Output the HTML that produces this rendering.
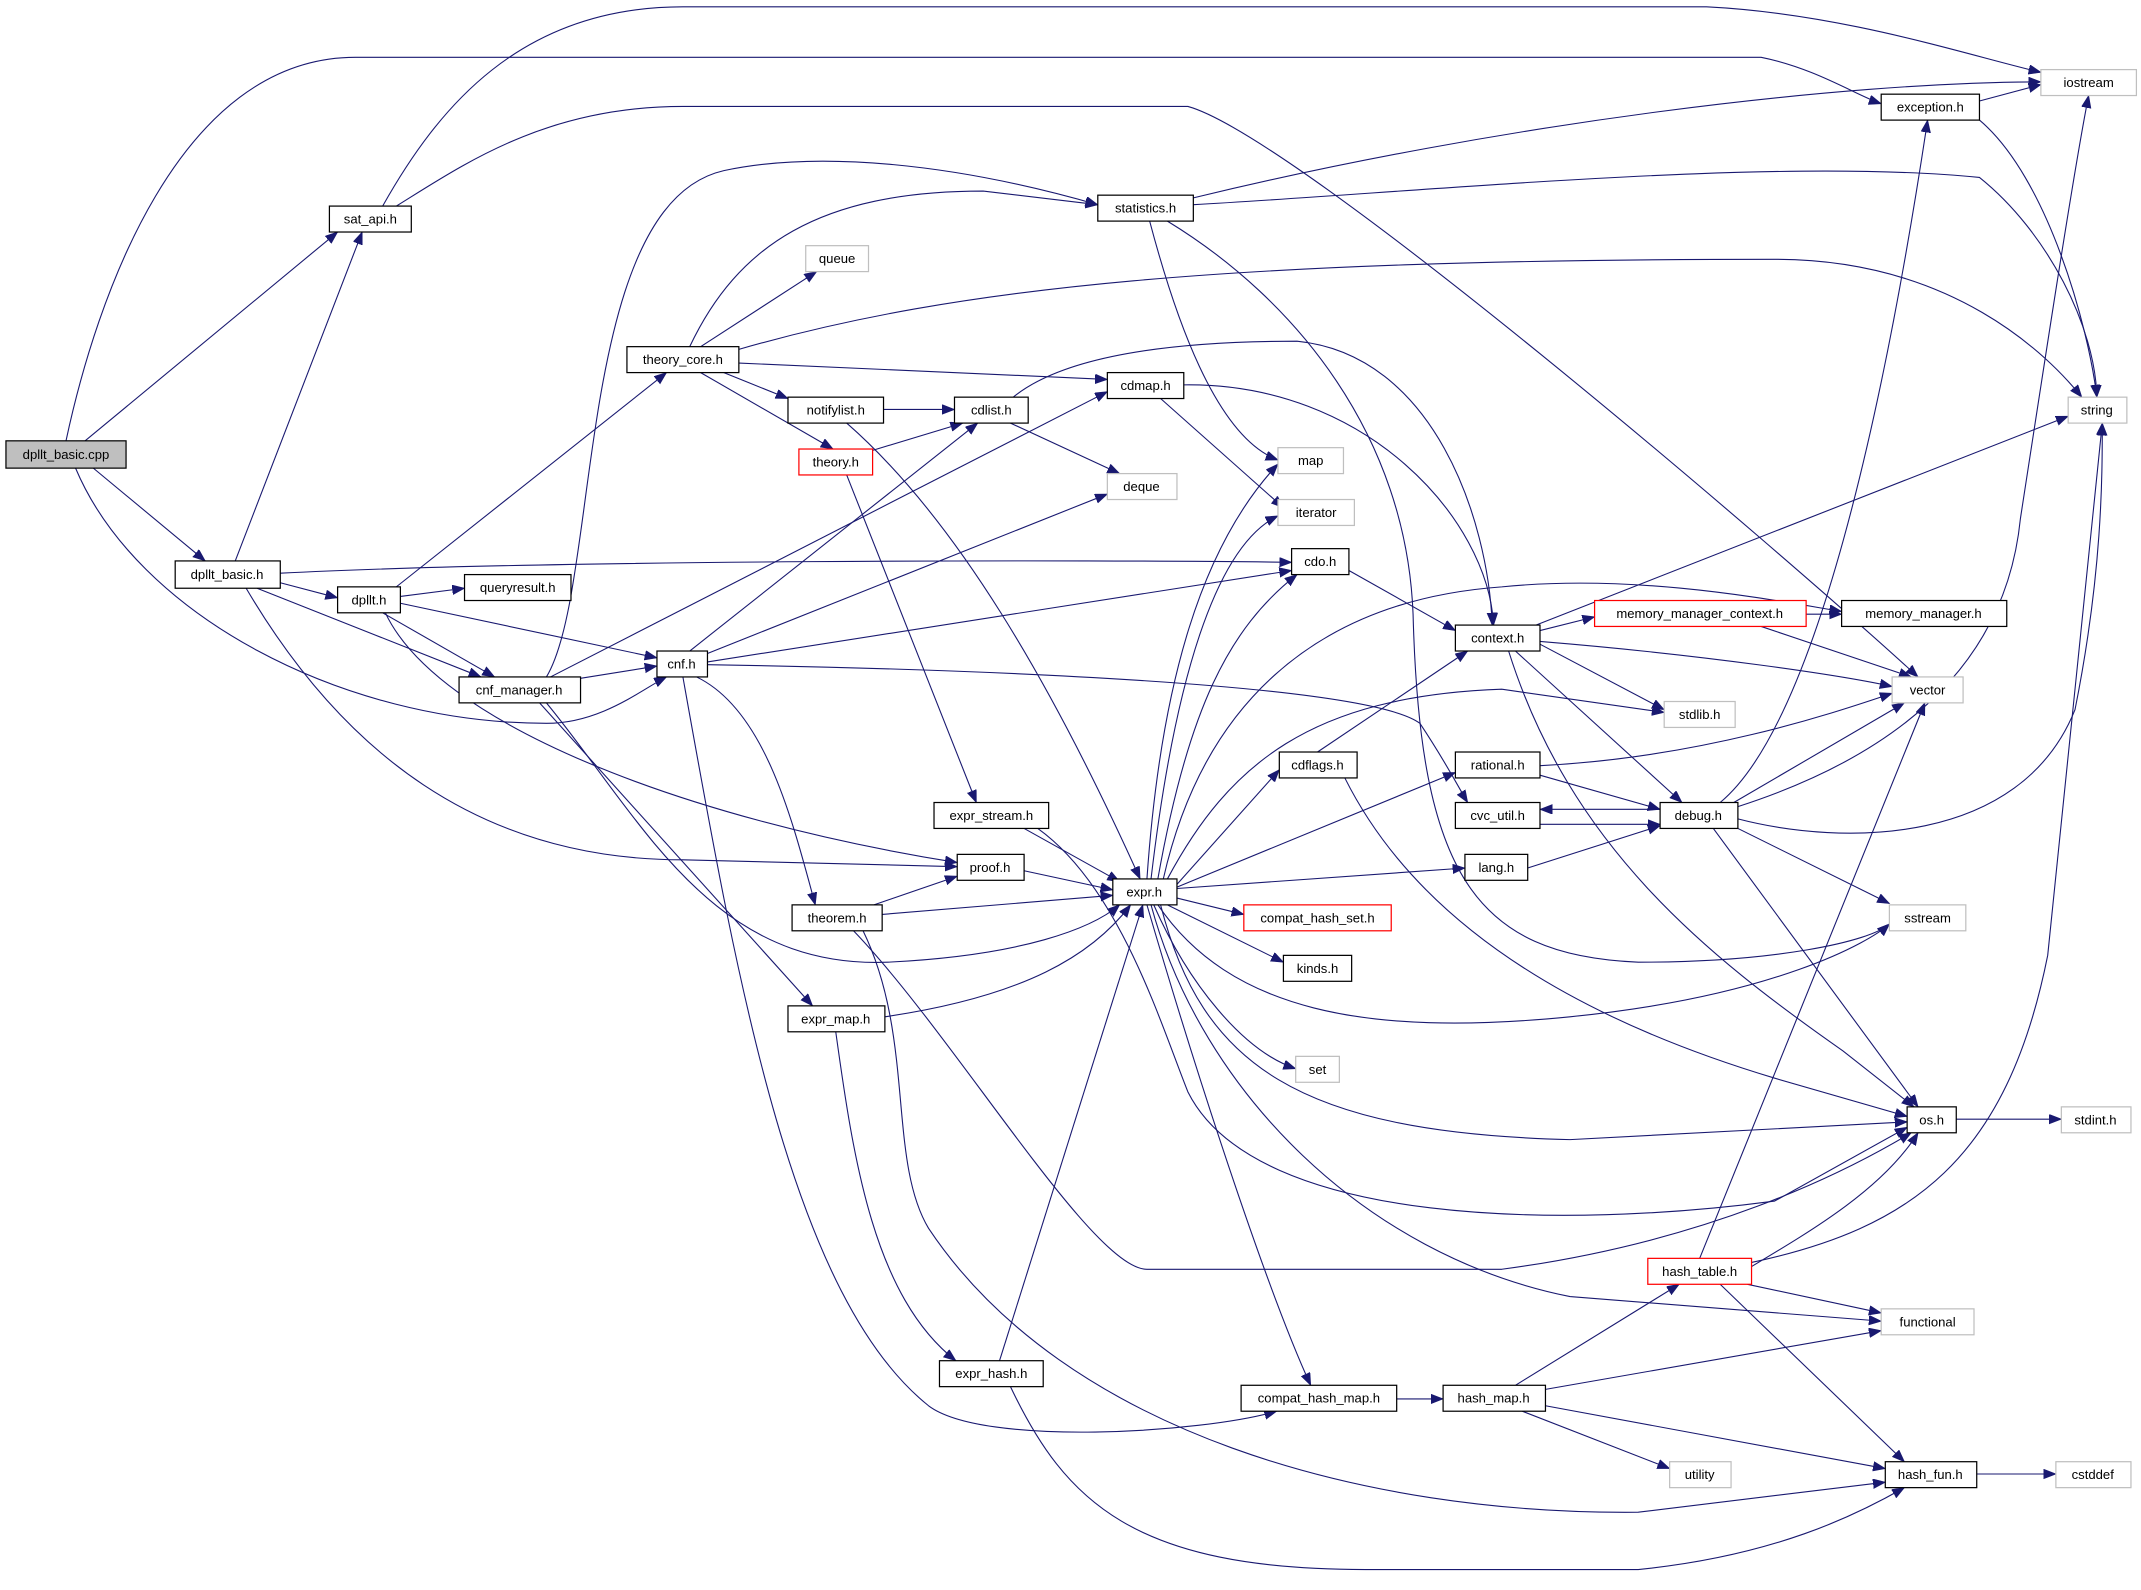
<!DOCTYPE html>
<html><head><meta charset="utf-8"><style>
html,body{margin:0;padding:0;background:#fff;}
svg{display:block}
text{font-family:"Liberation Sans","DejaVu Sans",sans-serif;font-size:9.6px;fill:#000;text-anchor:middle;dominant-baseline:central}
.e{fill:none;stroke:#191970;stroke-width:0.8}
.n{fill:#fff;stroke:#000;stroke-width:0.9}
.g{fill:#fff;stroke:#bfbfbf;stroke-width:0.9}
.r{fill:#fff;stroke:#ff0000;stroke-width:0.9}
</style></head><body>
<svg width="2141" height="1590" viewBox="0 0 1568 1165" xmlns="http://www.w3.org/2000/svg">
<defs><marker id="a" markerUnits="userSpaceOnUse" markerWidth="10" markerHeight="8" refX="9" refY="3.5" orient="auto"><path d="M0,0 L9,3.5 L0,7 z" fill="#191970" stroke="#191970" stroke-width="0.5"/></marker></defs>
<g marker-end="url(#a)">
<path class="e" d="M48,323 C70,220 130,42 260,42 L1290,42 C1330,50 1360,70 1378,76"/>
<path class="e" d="M280,151 C320,80 380,5 500,5 L1250,5 C1350,10 1440,40 1495,53"/>
<path class="e" d="M290,151 C340,120 400,78 500,78 L870,78 C950,100 1300,400 1405,496"/>
<path class="e" d="M62,323 L247,170"/>
<path class="e" d="M68,343 L150,411"/>
<path class="e" d="M55,343 C100,450 250,530 400,530 C440,530 470,505 488,496"/>
<path class="e" d="M172,411 L265,170"/>
<path class="e" d="M205,420 C400,410 800,410 946,412"/>
<path class="e" d="M205,427 L247,438"/>
<path class="e" d="M188,431 L352,496"/>
<path class="e" d="M180,431 C250,550 350,630 500,630 L701,635"/>
<path class="e" d="M293,437 L340,431"/>
<path class="e" d="M290,430 L488,273"/>
<path class="e" d="M293,442 L481,482"/>
<path class="e" d="M280,449 L362,496"/>
<path class="e" d="M282,449 C320,530 500,600 701,632"/>
<path class="e" d="M425,497 L481,488"/>
<path class="e" d="M400,496 C440,430 420,150 530,125 C600,110 700,120 804,150"/>
<path class="e" d="M403,496 L811,287"/>
<path class="e" d="M400,515 C470,600 520,710 650,705 C750,700 800,680 820,663"/>
<path class="e" d="M395,515 L595,737"/>
<path class="e" d="M505,477 L716,310"/>
<path class="e" d="M515,480 L811,362"/>
<path class="e" d="M518,485 L946,418"/>
<path class="e" d="M518,487 C700,490 1000,500 1040,530 C1060,560 1070,580 1075,588"/>
<path class="e" d="M510,496 C560,520 580,600 597,663"/>
<path class="e" d="M500,496 C540,720 580,950 680,1030 C720,1060 880,1050 935,1034"/>
<path class="e" d="M505,254 C540,180 600,140 720,140 L804,150"/>
<path class="e" d="M513,254 L598,199"/>
<path class="e" d="M541,256 C700,210 900,190 1300,190 C1430,190 1500,260 1525,291"/>
<path class="e" d="M541,266 L811,278"/>
<path class="e" d="M530,273 L577,292"/>
<path class="e" d="M513,273 L610,329"/>
<path class="e" d="M647,300 L699,300"/>
<path class="e" d="M620,310 C700,380 770,500 835,644"/>
<path class="e" d="M639,330 L705,310"/>
<path class="e" d="M620,348 L715,588"/>
<path class="e" d="M740,310 L820,347"/>
<path class="e" d="M742,291 C780,260 860,250 950,250 C1050,260 1090,380 1093,458"/>
<path class="e" d="M850,292 L940,372"/>
<path class="e" d="M867,282 C1000,280 1090,380 1094,458"/>
<path class="e" d="M874,145 C1100,90 1350,60 1495,60"/>
<path class="e" d="M874,150 C1050,140 1300,115 1450,130 C1500,170 1535,240 1536,291"/>
<path class="e" d="M842,162 C860,230 890,320 936,337"/>
<path class="e" d="M855,162 C950,220 1030,320 1035,450 C1040,640 1080,700 1200,705 C1300,705 1370,690 1384,677"/>
<path class="e" d="M1450,74 L1495,62"/>
<path class="e" d="M1450,88 C1500,130 1530,240 1536,291"/>
<path class="e" d="M988,418 L1066,462"/>
<path class="e" d="M1128,462 L1168,452"/>
<path class="e" d="M1128,470 C1250,480 1350,495 1386,503"/>
<path class="e" d="M1128,472 L1219,520"/>
<path class="e" d="M1110,477 L1232,588"/>
<path class="e" d="M1105,477 C1150,620 1250,700 1350,770 L1402,811"/>
<path class="e" d="M1125,458 L1515,305"/>
<path class="e" d="M1323,450 L1349,450"/>
<path class="e" d="M1290,459 L1400,496"/>
<path class="e" d="M840,644 C850,500 880,400 936,340"/>
<path class="e" d="M843,644 C860,500 890,400 936,378"/>
<path class="e" d="M848,644 C870,520 900,460 950,421"/>
<path class="e" d="M852,644 C880,520 960,440 1100,430 C1200,420 1300,440 1349,448"/>
<path class="e" d="M855,644 C900,560 960,510 1100,505 L1219,522"/>
<path class="e" d="M862,648 L937,564"/>
<path class="e" d="M862,650 L1066,566"/>
<path class="e" d="M862,651 L1073,636"/>
<path class="e" d="M862,658 L911,670"/>
<path class="e" d="M855,663 L940,705"/>
<path class="e" d="M845,663 C870,720 910,770 949,783"/>
<path class="e" d="M848,663 C900,740 1000,760 1150,745 C1300,730 1370,690 1384,677"/>
<path class="e" d="M850,663 C880,780 950,830 1150,835 L1397,822"/>
<path class="e" d="M843,663 C880,800 1000,920 1150,950 L1378,968"/>
<path class="e" d="M840,663 C880,800 930,950 960,1015"/>
<path class="e" d="M750,607 L820,646"/>
<path class="e" d="M760,607 C820,650 850,750 870,800 C920,900 1150,900 1300,880 L1397,826"/>
<path class="e" d="M750,638 L815,652"/>
<path class="e" d="M640,663 L701,642"/>
<path class="e" d="M646,670 L815,656"/>
<path class="e" d="M625,682 C700,760 800,930 840,930 L1100,930 C1250,910 1350,860 1400,830"/>
<path class="e" d="M632,682 C670,760 650,850 680,900 C780,1050 1000,1110 1200,1108 L1381,1086"/>
<path class="e" d="M648,745 C750,730 800,700 828,663"/>
<path class="e" d="M612,756 C625,850 640,950 700,997"/>
<path class="e" d="M732,997 L837,663"/>
<path class="e" d="M740,1016 C780,1100 830,1150 1000,1150 L1200,1150 C1300,1140 1360,1110 1395,1090"/>
<path class="e" d="M965,551 L1075,477"/>
<path class="e" d="M985,570 C1050,700 1200,760 1300,790 L1397,818"/>
<path class="e" d="M1128,561 C1250,555 1350,520 1386,508"/>
<path class="e" d="M1128,568 L1216,593"/>
<path class="e" d="M1128,604 L1216,604"/>
<path class="e" d="M1216,593 L1128,593"/>
<path class="e" d="M1119,636 L1216,605"/>
<path class="e" d="M1260,588 C1330,530 1380,300 1412,88"/>
<path class="e" d="M1273,591 C1400,550 1470,480 1480,380 C1500,250 1520,120 1530,70"/>
<path class="e" d="M1273,600 C1350,620 1480,620 1520,520 C1540,420 1540,350 1540,310"/>
<path class="e" d="M1270,588 L1395,515"/>
<path class="e" d="M1273,607 L1384,662"/>
<path class="e" d="M1255,607 L1405,811"/>
<path class="e" d="M1433,820 L1510,820"/>
<path class="e" d="M1245,922 L1410,515"/>
<path class="e" d="M1283,928 C1330,900 1380,870 1405,830"/>
<path class="e" d="M1283,925 C1400,900 1470,850 1500,700 L1540,310"/>
<path class="e" d="M1280,941 L1378,962"/>
<path class="e" d="M1260,941 L1395,1071"/>
<path class="e" d="M1023,1025 L1057,1025"/>
<path class="e" d="M1110,1015 L1230,941"/>
<path class="e" d="M1132,1018 L1378,975"/>
<path class="e" d="M1115,1034 L1223,1076"/>
<path class="e" d="M1132,1030 L1381,1076"/>
<path class="e" d="M1448,1080 L1506,1080"/>
</g>
<g>
<rect x="4" y="323" width="88" height="20" fill="#bfbfbf" stroke="#000" stroke-width="0.9"/><text x="48" y="333">dpllt_basic.cpp</text>
<rect class="g" x="1495" y="51" width="70" height="19"/><text x="1530" y="60.5">iostream</text>
<rect class="n" x="1378" y="69" width="72" height="19"/><text x="1414" y="78.5">exception.h</text>
<rect class="n" x="241" y="151" width="60" height="19"/><text x="271" y="160.5">sat_api.h</text>
<rect class="n" x="804" y="143" width="70" height="19"/><text x="839" y="152.5">statistics.h</text>
<rect class="g" x="590" y="180" width="46" height="19"/><text x="613" y="189.5">queue</text>
<rect class="n" x="459" y="254" width="82" height="19"/><text x="500" y="263.5">theory_core.h</text>
<rect class="g" x="1515" y="291" width="43" height="19"/><text x="1536" y="300.5">string</text>
<rect class="n" x="577" y="291" width="70" height="19"/><text x="612" y="300.5">notifylist.h</text>
<rect class="n" x="699" y="291" width="54" height="19"/><text x="726" y="300.5">cdlist.h</text>
<rect class="n" x="811" y="273" width="56" height="19"/><text x="839" y="282.5">cdmap.h</text>
<rect class="r" x="585" y="329" width="54" height="19"/><text x="612" y="338.5">theory.h</text>
<rect class="g" x="936" y="328" width="48" height="19"/><text x="960" y="337.5">map</text>
<rect class="g" x="811" y="347" width="51" height="19"/><text x="836" y="356.5">deque</text>
<rect class="g" x="936" y="366" width="56" height="19"/><text x="964" y="375.5">iterator</text>
<rect class="n" x="128" y="411" width="77" height="20"/><text x="166" y="421">dpllt_basic.h</text>
<rect class="n" x="247" y="430" width="46" height="19"/><text x="270" y="439.5">dpllt.h</text>
<rect class="n" x="340" y="421" width="78" height="19"/><text x="379" y="430.5">queryresult.h</text>
<rect class="n" x="946" y="402" width="42" height="19"/><text x="967" y="411.5">cdo.h</text>
<rect class="n" x="1066" y="458" width="62" height="19"/><text x="1097" y="467.5">context.h</text>
<rect class="r" x="1168" y="440" width="155" height="19"/><text x="1245" y="449.5">memory_manager_context.h</text>
<rect class="n" x="1349" y="440" width="121" height="19"/><text x="1409" y="449.5">memory_manager.h</text>
<rect class="n" x="481" y="477" width="37" height="19"/><text x="499" y="486.5">cnf.h</text>
<rect class="n" x="336" y="496" width="89" height="19"/><text x="380" y="505.5">cnf_manager.h</text>
<rect class="g" x="1219" y="514" width="52" height="19"/><text x="1245" y="523.5">stdlib.h</text>
<rect class="g" x="1386" y="496" width="52" height="19"/><text x="1412" y="505.5">vector</text>
<rect class="n" x="937" y="551" width="57" height="19"/><text x="965" y="560.5">cdflags.h</text>
<rect class="n" x="1066" y="551" width="62" height="19"/><text x="1097" y="560.5">rational.h</text>
<rect class="n" x="684" y="588" width="84" height="19"/><text x="726" y="597.5">expr_stream.h</text>
<rect class="n" x="1066" y="588" width="62" height="19"/><text x="1097" y="597.5">cvc_util.h</text>
<rect class="n" x="1216" y="588" width="57" height="19"/><text x="1244" y="597.5">debug.h</text>
<rect class="n" x="701" y="626" width="49" height="19"/><text x="725" y="635.5">proof.h</text>
<rect class="n" x="1073" y="626" width="46" height="19"/><text x="1096" y="635.5">lang.h</text>
<rect class="n" x="815" y="644" width="47" height="19"/><text x="838" y="653.5">expr.h</text>
<rect class="n" x="580" y="663" width="66" height="19"/><text x="613" y="672.5">theorem.h</text>
<rect class="r" x="911" y="663" width="108" height="19"/><text x="965" y="672.5">compat_hash_set.h</text>
<rect class="g" x="1384" y="663" width="56" height="19"/><text x="1412" y="672.5">sstream</text>
<rect class="n" x="940" y="700" width="50" height="19"/><text x="965" y="709.5">kinds.h</text>
<rect class="n" x="577" y="737" width="71" height="19"/><text x="612" y="746.5">expr_map.h</text>
<rect class="g" x="949" y="774" width="32" height="19"/><text x="965" y="783.5">set</text>
<rect class="n" x="1397" y="811" width="36" height="19"/><text x="1415" y="820.5">os.h</text>
<rect class="g" x="1510" y="811" width="51" height="19"/><text x="1535" y="820.5">stdint.h</text>
<rect class="r" x="1207" y="922" width="76" height="19"/><text x="1245" y="931.5">hash_table.h</text>
<rect class="g" x="1378" y="959" width="68" height="19"/><text x="1412" y="968.5">functional</text>
<rect class="n" x="688" y="997" width="76" height="19"/><text x="726" y="1006.5">expr_hash.h</text>
<rect class="n" x="909" y="1015" width="114" height="19"/><text x="966" y="1024.5">compat_hash_map.h</text>
<rect class="n" x="1057" y="1015" width="75" height="19"/><text x="1094" y="1024.5">hash_map.h</text>
<rect class="g" x="1223" y="1071" width="45" height="19"/><text x="1245" y="1080.5">utility</text>
<rect class="n" x="1381" y="1071" width="67" height="19"/><text x="1414" y="1080.5">hash_fun.h</text>
<rect class="g" x="1506" y="1071" width="55" height="19"/><text x="1533" y="1080.5">cstddef</text>
</g>
</svg>
</body></html>
